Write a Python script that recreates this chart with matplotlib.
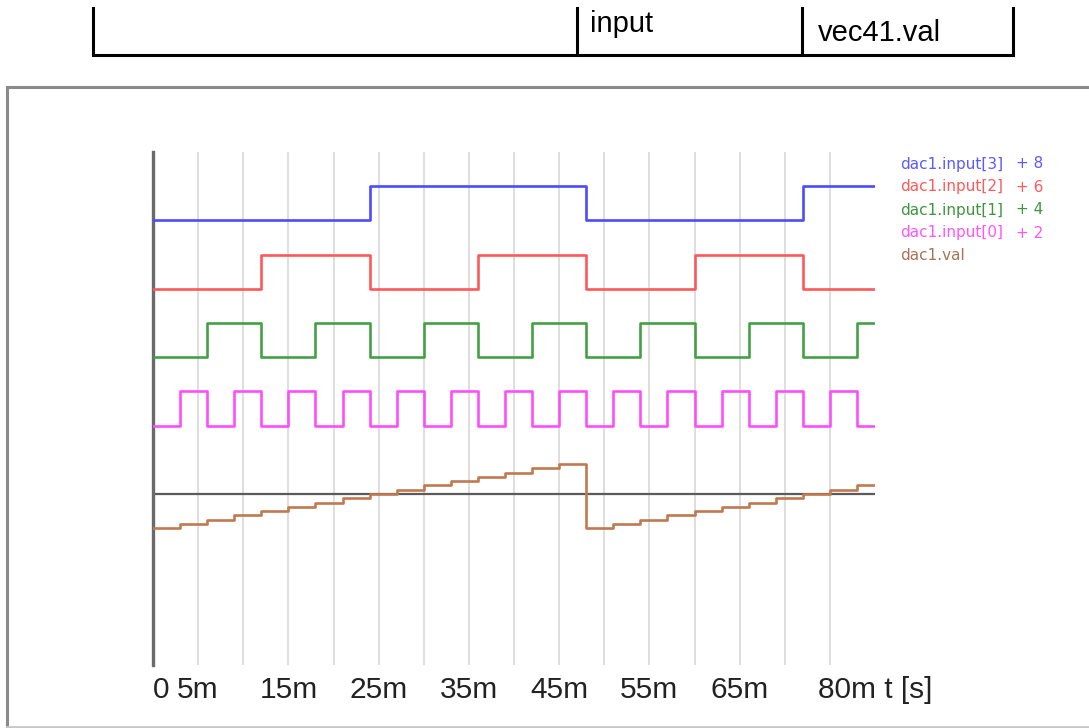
import matplotlib
matplotlib.use("Agg")
import matplotlib.pyplot as plt
from matplotlib.lines import Line2D

W, H = 1089, 728

# ---- data ----
# step start times in ms (each step 3 ms), final point closes last step at 80 ms
t_ms = [0, 3, 6, 9, 12, 15, 18, 21, 24, 27, 30, 33, 36, 39, 42, 45,
        48, 51, 54, 57, 60, 63, 66, 69, 72, 75, 78, 80]
input0 = [0, 1, 0, 1, 0, 1, 0, 1, 0, 1, 0, 1, 0, 1, 0, 1,
          0, 1, 0, 1, 0, 1, 0, 1, 0, 1, 0, 0]
input1 = [0, 0, 1, 1, 0, 0, 1, 1, 0, 0, 1, 1, 0, 0, 1, 1,
          0, 0, 1, 1, 0, 0, 1, 1, 0, 0, 1, 1]
input2 = [0, 0, 0, 0, 1, 1, 1, 1, 0, 0, 0, 0, 1, 1, 1, 1,
          0, 0, 0, 0, 1, 1, 1, 1, 0, 0, 0, 0]
input3 = [0, 0, 0, 0, 0, 0, 0, 0, 1, 1, 1, 1, 1, 1, 1, 1,
          0, 0, 0, 0, 0, 0, 0, 0, 1, 1, 1, 1]
dac_val = [-1.0, -0.875, -0.75, -0.625, -0.5, -0.375, -0.25, -0.125,
           0.0, 0.125, 0.25, 0.375, 0.5, 0.625, 0.75, 0.875,
           -1.0, -0.875, -0.75, -0.625, -0.5, -0.375, -0.25, -0.125,
           0.0, 0.125, 0.25, 0.25]

series_names = ["dac1.input[3]", "dac1.input[2]", "dac1.input[1]", "dac1.input[0]", "dac1.val"]
series_offsets = [8, 6, 4, 2, 0]
series_suffix = ["+ 8", "+ 6", "+ 4", "+ 2", ""]
series_colors = ["#4b4bff", "#ff5858", "#44a044", "#ff4cff", "#c07a50"]
legend_colors = ["#5a5aff", "#ff5a5a", "#3f963f", "#ff55ff", "#a87458"]

tick_vals = [0, 5, 15, 25, 35, 45, 55, 65]
tick_labels = ["0", "5m", "15m", "25m", "35m", "45m", "55m", "65m"]
grid_vals = [5, 10, 15, 20, 25, 30, 35, 40, 45, 50, 55, 60, 65, 70, 75]

# ---- figure ----
fig = plt.figure(figsize=(W / 100, H / 100), dpi=100)
plt.rcParams['font.family'] = ['Liberation Sans', 'DejaVu Sans']

def px(x, y):
    return x / W, 1 - y / H

# top table fragment
tab_lw = 2.2
fig.add_artist(Line2D([93 / W, 1013 / W], [1 - 55 / H, 1 - 55 / H], color="black", lw=tab_lw))
for xv in [93, 577, 802, 1013]:
    fig.add_artist(Line2D([xv / W, xv / W], [1 - 8 / H, 1 - 55 / H], color="black", lw=tab_lw))
fig.text(*px(590, 24), "input", fontsize=21, color="black", va="center", ha="left",
         family="Liberation Sans")
fig.text(*px(818, 33), "vec41.val", fontsize=21, color="black", va="center", ha="left",
         family="Liberation Sans")

# outer gray frame
frame_c = "#8a8a8a"
fig.add_artist(Line2D([7 / W, 1.0], [1 - 87 / H, 1 - 87 / H], color=frame_c, lw=2.2))
fig.add_artist(Line2D([7 / W, 7 / W], [1 - 87 / H, 1 - 727 / H], color=frame_c, lw=2.2))
fig.add_artist(Line2D([7 / W, 1.0], [1 - 727 / H, 1 - 727 / H], color="#c8c8c8", lw=2.0))

# main axes: x 0..80 ms over px 153..875, y -5..10 over px 665..152
ax = fig.add_axes([153 / W, (H - 665) / H, 722 / W, 513 / H])
ax.set_xlim(0, 80)
ax.set_ylim(-5, 10)
for s in ["top", "right", "bottom"]:
    ax.spines[s].set_visible(False)
ax.spines["left"].set_color("#6a6a6a")
ax.spines["left"].set_linewidth(2.4)
ax.set_yticks([])

for g in grid_vals:
    ax.axvline(g, color="#d8d8d8", lw=1.2, zorder=0)
ax.axhline(0, color="#5a5a5a", lw=1.6, zorder=1)

data = [input3, input2, input1, input0, dac_val]
for vals, off, col in zip(data, series_offsets, series_colors):
    ax.plot(t_ms, [v + off for v in vals], drawstyle="steps-post", color=col, lw=1.9, zorder=3)

ax.set_xticks(tick_vals)
ax.set_xticklabels(tick_labels, fontsize=21.5, color="#222222")
ax.tick_params(axis="x", length=0, pad=8)
for lab in ax.get_xticklabels():
    if lab.get_text() == "0":
        lab.set_ha("left")
ax.annotate("80m t [s]", xy=(73.7, -5.0), xytext=(0, -8), textcoords="offset points",
            fontsize=21.5, color="#222222", ha="left", va="top", annotation_clip=False)

# legend as colored texts
leg_y = [164, 187, 210, 233, 255]
for name, suf, col, yy in zip(series_names, series_suffix, legend_colors, leg_y):
    fig.text(*px(900, yy), name, fontsize=11, color=col, va="center", ha="left",
             family="DejaVu Sans")
    if suf:
        fig.text(*px(1016, yy), suf, fontsize=11, color=col, va="center", ha="left",
                 family="DejaVu Sans")

fig.savefig("out.png", dpi=100)
